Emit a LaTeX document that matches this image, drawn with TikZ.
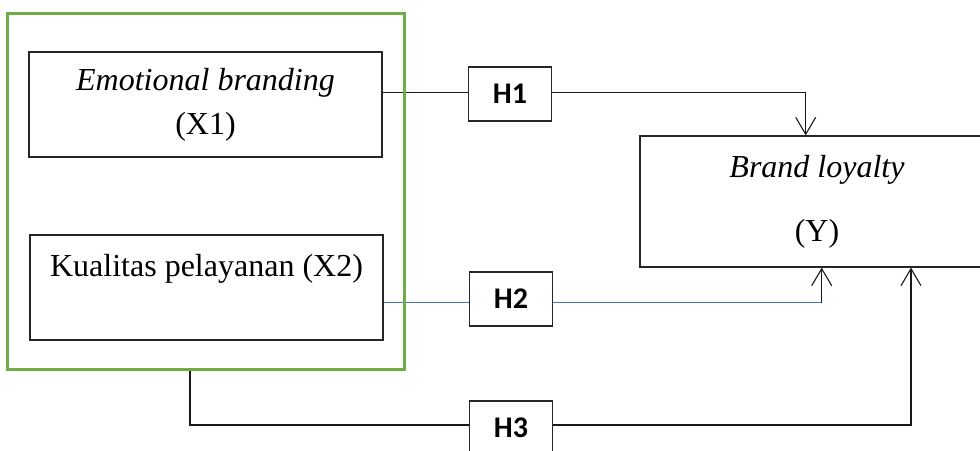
\documentclass[tikz,border=0pt]{standalone}
\usepackage{fontspec}
\setmainfont{Liberation Serif}
\newfontfamily\hfont{Carlito}
\usetikzlibrary{arrows.meta,calc}
\definecolor{grpgreen}{HTML}{70AD47}
\definecolor{linkblue}{HTML}{4472C4}
\tikzset{
  varbox/.style={draw=black!85, line width=1.2pt, inner sep=0pt, align=center, fill=white},
  hbox/.style={draw=black!85, line width=1.2pt, inner sep=0pt, minimum width=83pt, minimum height=54pt, fill=white, font=\hfont\bfseries\fontsize{30}{34}\selectfont},
  link/.style={line width=1.2pt, black!90},
  arr/.style={-{Straight Barb[length=17pt,width=20pt,line width=1.1pt]}}
}
\newcommand{\hlab}[1]{\raisebox{-4pt}{#1}}
\begin{document}
\begin{tikzpicture}[x=1pt,y=-1pt]
\useasboundingbox (0,0) rectangle (980,450);
% group frame (drawn later)
\node[minimum width=396pt, minimum height=355pt, inner sep=0pt] (grp) at (206,191.5) {};
% variables
\node[varbox, minimum width=353pt, minimum height=105pt, font=\fontsize{32}{44}\selectfont] (x1) at (205.5,104.5) {\textit{Emotional branding}\\(X1)};
\node[varbox, minimum width=353pt, minimum height=105pt, font=\fontsize{32}{44}\selectfont] (x2) at (206.5,287.5) {Kualitas pelayanan (X2)\\\mbox{}};
\node[varbox, minimum width=354pt, minimum height=131pt, font=\fontsize{32}{64}\selectfont] (y) at (817,201.5) {\textit{Brand loyalty}\\(Y)};
% hypotheses
\node[hbox] (h1) at (510,94) {\hlab{H1}};
\node[hbox] (h2) at (511,299) {\hlab{H2}};
\node[hbox] (h3) at (511,428) {\hlab{H3}};
% connector end points on the boxes
\coordinate (t1) at ($(y.north)+(-11.3,0)$);
\coordinate (t2) at ($(y.south)+(4.7,0)$);
\coordinate (t3) at ($(y.south)+(94,0)$);
\coordinate (g3) at ($(grp.south)+(-16,0)$);
\coordinate (a1) at ($(x1.east)+(0,-11.8)$);
\coordinate (a2) at ($(x2.east)+(0,15.2)$);
\coordinate (c2) at (t2 |- a2);
% connectors
\draw[link] (a1) -- (a1 -| h1.west);
\draw[link,arr] (a1 -| h1.east) -| (t1);
\draw[link, linkblue] (a2) -- (a2 -| h2.west);
\draw[link, linkblue] (a2 -| h2.east) -- (c2);
\draw[link,arr] (c2) -- (t2);
\draw[link] (g3) |- ($(h3.west)+(0,-3)$);
\draw[link,arr] ($(h3.east)+(0,-3)$) -| (t3);
% redraw hypothesis boxes over lines
\node[hbox] at (h1) {\hlab{H1}};
\node[hbox] at (h2) {\hlab{H2}};
\node[hbox] at (h3) {\hlab{H3}};
% group frame
\draw[grpgreen, line width=3pt] (grp.north west) rectangle (grp.south east);
\end{tikzpicture}
\end{document}
